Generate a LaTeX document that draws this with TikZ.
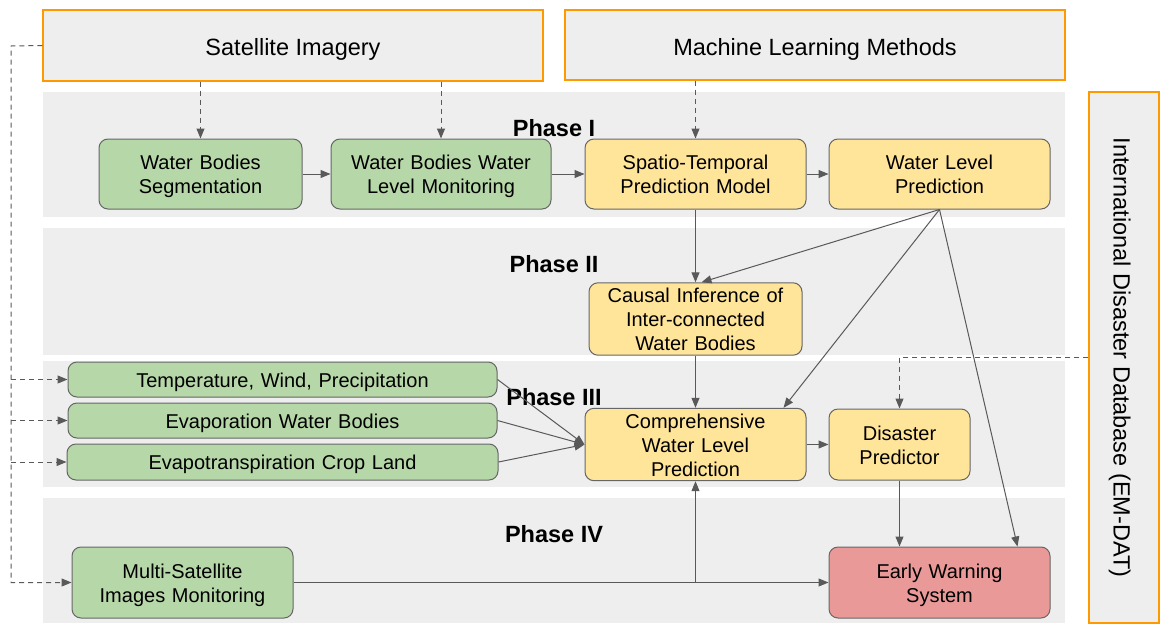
\documentclass[tikz,border=0pt]{standalone}
\usepackage{fontspec}
\setmainfont{Liberation Sans}
\usepackage{tikz}
\usetikzlibrary{positioning, arrows, arrows.meta, calc}
\definecolor{bandgray}{HTML}{EEEEEE}
\definecolor{srcorange}{HTML}{FF9900}
\definecolor{leafgreen}{HTML}{B6D7A8}
\definecolor{sandyellow}{HTML}{FFE599}
\definecolor{alertred}{HTML}{EA9999}
\definecolor{boxline}{HTML}{666666}
\definecolor{arrowgray}{HTML}{595959}
\tikzset{>={Stealth[length=10pt,width=8pt,inset=0pt]}}
\tikzset{
  strutted/.style={execute at begin node={\rule{0pt}{#1}},
    execute at end node={\rule[-0.22em]{0pt}{0.22em}}},
  box/.style={draw=boxline, line width=1pt, rounded corners=9pt, align=center,
    inner sep=0pt, text width={\pgfshapeminwidth-14pt},
    font=\fontsize{20}{24}\selectfont, strutted=1em},
  greenbox/.style={box, fill=leafgreen},
  yellowbox/.style={box, fill=sandyellow},
  redbox/.style={box, fill=alertred},
  srcbox/.style={draw=srcorange, line width=1.2pt, fill=bandgray, inner sep=0pt,
    font=\fontsize{23.5}{28}\selectfont, strutted=1.1em},
  phaselabel/.style={font=\bfseries\fontsize{23.5}{28}\selectfont, inner sep=0pt},
  flow/.style={->, draw=arrowgray, line width=1pt},
  feed/.style={flow, dash pattern=on 5pt off 4pt}
}

\begin{document}
\begin{tikzpicture}[x=1pt, y=-1pt]
\useasboundingbox (0,0) rectangle (1164,637);
% phase bands
\foreach \top/\bot/\lab/\ly in {92/217/I/128, 228/355/II/264, 361/487/III/397, 498/623/IV/534}{
  \fill[bandgray] (43,\top) rectangle (1065,\bot);
  \node[phaselabel] (ph\lab) at (554,\ly) {Phase \lab};
}
% sources
\node[srcbox, minimum width=500pt, minimum height=71pt] at (293,45.5)(sat) {Satellite Imagery};
\node[srcbox, minimum width=500pt, minimum height=70pt] at (815,45)(ml) {Machine Learning Methods};
\node[srcbox, rotate=-90, minimum width=531pt, minimum height=70pt] at (1124,357.5)(idd) {International Disaster Database (EM-DAT)};
% phase I
\node[greenbox, minimum width=203pt, minimum height=70pt] at (200.5,174)(seg) {Water Bodies\\Segmentation};
\node[greenbox, minimum width=220pt, minimum height=70pt] at (441,174)(mon) {Water Bodies Water\\Level Monitoring};
\node[yellowbox, minimum width=221pt, minimum height=70pt] at (695.5,174)(stm) {Spatio-Temporal\\Prediction Model};
\node[yellowbox, minimum width=221pt, minimum height=70pt] at (939.5,174)(wlp) {Water Level\\Prediction};
% phase II
\node[yellowbox, minimum width=213pt, minimum height=70pt] at (695.5,319)(causal) {Causal Inference of\\Inter-connected\\Water Bodies};
% phase III
\node[greenbox, minimum width=429pt, minimum height=35pt] at (282.5,379.5)(temp) {Temperature, Wind, Precipitation};
\node[greenbox, minimum width=429pt, minimum height=35pt] at (282.5,420.5)(evap) {Evaporation Water Bodies};
\node[greenbox, minimum width=431pt, minimum height=36pt] at (282.5,462)(etcrop) {Evapotranspiration Crop Land};
\node[yellowbox, minimum width=221pt, minimum height=71pt] at (695.5,444.5)(comp) {Comprehensive\\Water Level\\Prediction};
\node[yellowbox, minimum width=141pt, minimum height=71pt] at (899.5,444.5)(dis) {Disaster\\Predictor};
% phase IV
\node[greenbox, minimum width=221pt, minimum height=71pt] at (182.5,582.5)(multi) {Multi-Satellite\\Images Monitoring};
\node[redbox, minimum width=221pt, minimum height=71pt] at (939.5,582.5)(ews) {Early Warning\\System};
% dashed feeds
\draw[feed] (sat.south -| seg.north) -- (seg.north);
\draw[feed] (sat.south -| mon.north) -- (mon.north);
\draw[feed] (ml.south -| stm.north) -- (stm.north);
\coordinate (lft) at (11,46);
\draw[feed] (sat.west) -- (lft) |- (multi.west);
\foreach \n in {temp, evap, etcrop}
  \draw[feed] (lft |- \n.west) -- (\n.west);
\draw[feed] (idd.south) -| (dis.north);
% flows
\draw[flow] (seg) -- (mon);
\draw[flow] (mon) -- (stm);
\draw[flow] (stm) -- (wlp);
\draw[flow] (stm) -- (causal);
\draw[flow] (wlp.south) -- ([xshift=6pt]causal.north);
\draw[flow] (wlp.south) -- ([xshift=-23pt]comp.north east);
\draw[flow] (wlp.south) -- ([xshift=-33pt]ews.north east);
\draw[flow] (causal) -- (comp);
\foreach \n in {temp, evap, etcrop}
  \draw[flow] (\n.east) -- (comp.west);
\draw[flow] (comp) -- (dis);
\draw[flow] (dis.south) -- (dis.south |- ews.north);
\draw[flow] (multi) -- (ews);
\draw[flow] (multi.east -| comp.south) -- (comp.south);
\end{tikzpicture}
\end{document}
